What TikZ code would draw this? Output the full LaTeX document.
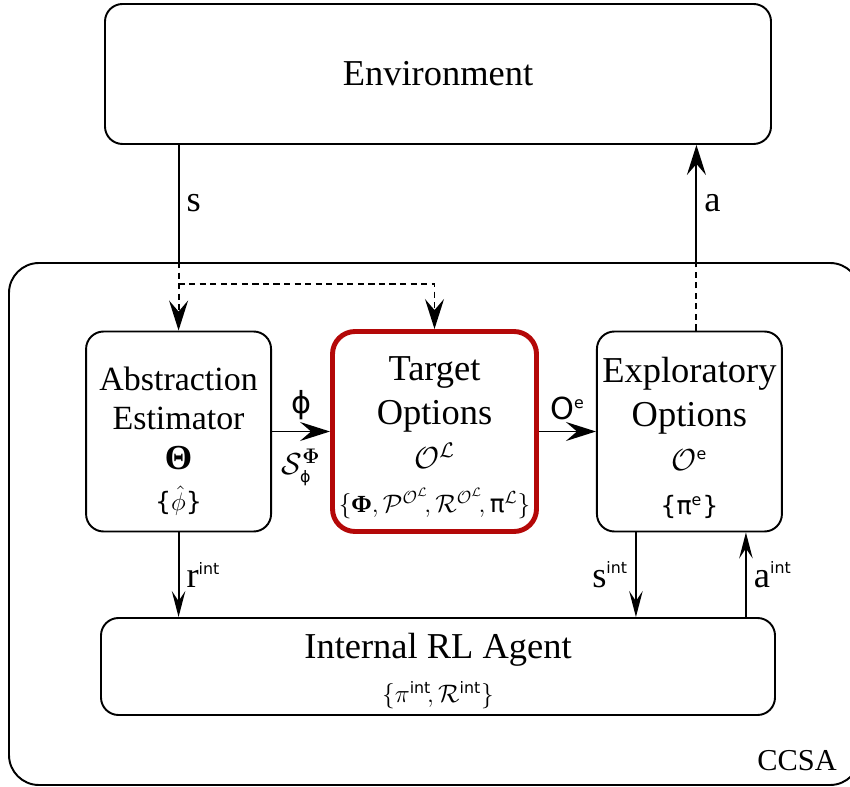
\documentclass[tikz,border=0pt]{standalone}
\usepackage{amsmath,amssymb}
\usepackage[no-math]{fontspec}
\setmainfont{Liberation Serif}
\newfontfamily\dvsans{DejaVu Sans}
\usepackage{xcolor}
\usetikzlibrary{arrows.meta,positioning}
\definecolor{CCSAred}{RGB}{180,8,8}
\newcommand{\intsup}{\text{\dvsans\small int}}
\newcommand{\sfsup}[1]{\text{\dvsans\small #1}}
\tikzset{
  block/.style={rectangle, rounded corners=0.35cm, draw=black, fill=white,
                line width=1.1pt, minimum width=3.70cm, minimum height=4.0cm,
                font=\huge, text centered, align=center, inner sep=0pt},
  frame/.style={rectangle, rounded corners=0.6cm, draw=black, line width=1.1pt,
                minimum width=17.02cm, minimum height=10.44cm},
  arr/.style={-{Stealth[length=0.6cm, width=0.38cm, inset=0.22cm]}, line width=1.1pt},
  arrsm/.style={-{Stealth[length=0.52cm, width=0.27cm, inset=0.2cm]}, line width=1.1pt},
  wire/.style={line width=1.1pt},
  dashline/.style={dash pattern=on 3.5pt off 2.5pt},
  lbl/.style={font=\huge, inner sep=4pt},
}

\begin{document}
\begin{tikzpicture}
    \clip (0,0) rectangle (17,-15.74);

    % CCSA frame
    \node[frame] (ccsa) at (8.69,-10.48) {};
    \node[anchor=base east, font=\LARGE] (ccsalbl) at (16.86,-15.4) {CCSA};

    % Environment
    \node[block, minimum width=13.32cm, minimum height=2.80cm] (env) at (8.76,-1.48)
          {Environment};

    % Options in a row
    \node[block, draw=CCSAred, line width=2.8pt, rounded corners=0.45cm,
          minimum width=4.08cm] (tgt) at (8.69,-8.63)
          {\rule{0pt}{0.72cm}Target\\Options\\{\LARGE$\mathcal{O}^{\mathcal{L}}$}\\
           {\fontsize{14}{17}\selectfont$\{\text{\bfseries Φ}, \mathcal{P}^{\mathcal{O}^{\mathcal{L}}}\!,
            \mathcal{R}^{\mathcal{O}^{\mathcal{L}}}\!, \text{\dvsans π}^{\mathcal{L}}\}$}};
    \node[block, left=1.16cm of tgt, font=\fontsize{19.3}{22.5}\selectfont] (abs)
          {\rule{0pt}{0.85cm}Abstraction\\Estimator\\{\fontsize{20}{22}\selectfont\bfseries Θ}\\[1pt]
           {\Large{\dvsans\{}$\hat{\phi}${\dvsans\}}}};
    \node[block, right=1.14cm of tgt] (expl)
          {\rule{0pt}{0.76cm}Exploratory\\Options\\{\LARGE$\mathcal{O}^{\sfsup{e}}$}\\
           {\Large\dvsans\{π$^{\sfsup{e}}$\}}};

    % Internal agent
    \node[block, minimum width=13.48cm, minimum height=1.94cm] (agent) at (8.76,-13.33)
          {\rule{0pt}{0.7cm}Internal RL Agent\\{\Large$\{\pi^{\intsup}\!, \mathcal{R}^{\intsup}\}$}};

    % s from the environment, dashed inside CCSA
    \coordinate (sin) at (abs.north |- ccsa.north);
    \coordinate (sbr) at ([yshift=-0.44cm]sin);
    \draw[wire] (env.south -| abs.north) -- node[lbl, right] (slbl) {s} (sin);
    \draw[arr, dashline] (sin) -- (abs.north);
    \draw[arr, dashline] (sbr) -| (tgt.north);

    % a back to the environment
    \coordinate (aexp) at ([xshift=0.14cm]expl.north);
    \coordinate (aout) at (aexp |- ccsa.north);
    \draw[wire, dashline] (aexp) -- (aout);
    \draw[arr] (aout) -- node[lbl, right] (albl) {a} (aexp |- env.south);

    % option pipeline
    \draw[arr] (abs) -- node[above=0.1cm, font=\LARGE] (philbl) {\dvsans ϕ}
          node[below=0.22cm, font=\LARGE] (slbl2) {$\mathcal{S}^{\boldsymbol{\Phi}}_{\sfsup{ϕ}}$} (tgt);
    \draw[arr] (tgt) -- node[above=0.1cm, font=\LARGE] (oelbl) {\dvsans O$^{\sfsup{e}}$} (expl);

    % internal agent links
    \coordinate (sexp) at ([xshift=-1.07cm]expl.south);
    \coordinate (aint) at ([xshift=1.13cm]expl.south);
    \draw[arrsm] (abs.south) -- node[lbl, right] (rlbl) {r$^{\intsup}$} (abs.south |- agent.north);
    \draw[arrsm] (sexp) -- node[lbl, left] (silbl) {s$^{\intsup}$} (sexp |- agent.north);
    \draw[arrsm] (aint |- agent.north) -- node[lbl, right] (ailbl) {a$^{\intsup}$} (aint);
\end{tikzpicture}
\end{document}
